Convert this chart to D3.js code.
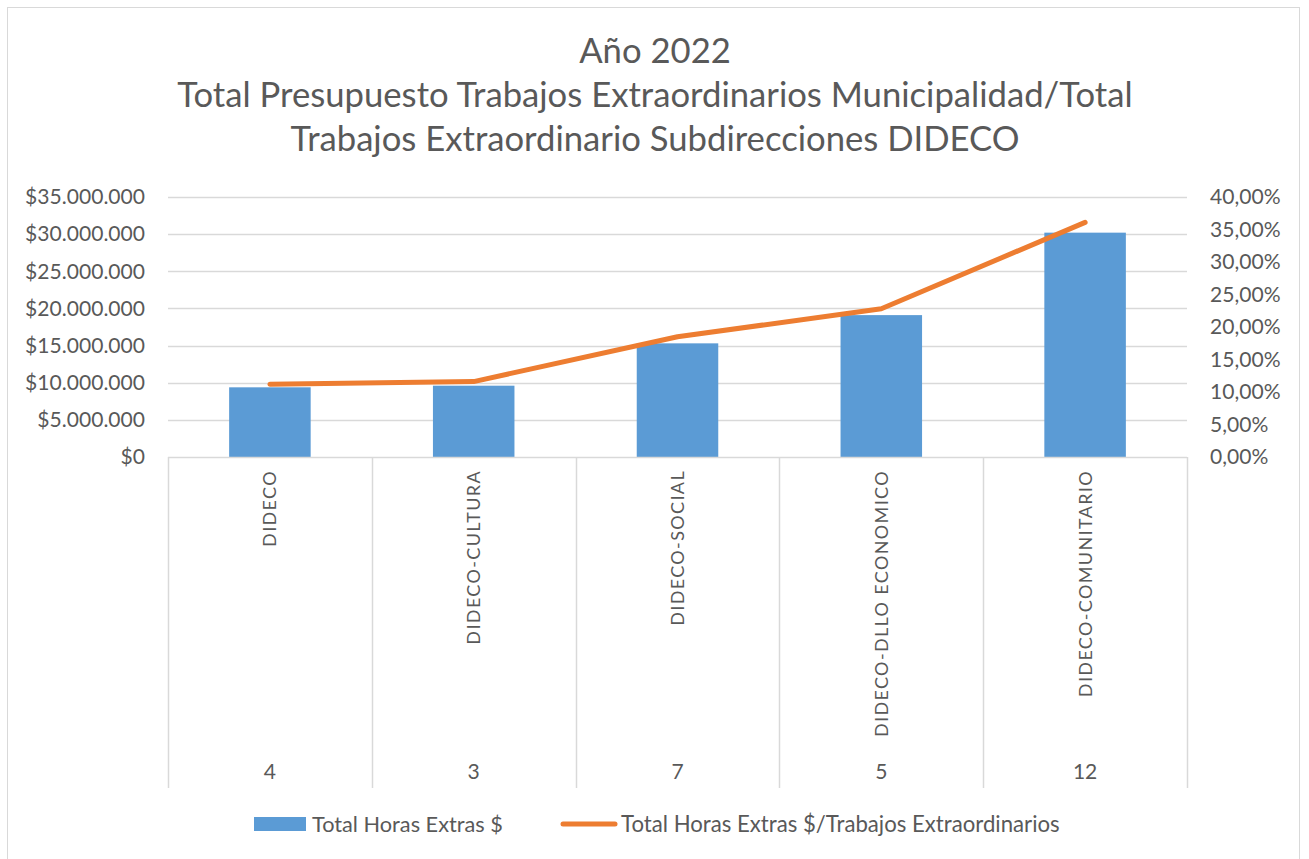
<!DOCTYPE html>
<html><head><meta charset="utf-8">
<script src="https://cdn.jsdelivr.net/npm/d3@7"></script>
<style>body{margin:0;background:#fff}svg text{font-family:Lato,"Noto Sans",sans-serif;fill:#595959}</style>
</head><body><svg id="c" width="1309" height="859"></svg>
<script>
const categories = ["DIDECO","DIDECO-CULTURA","DIDECO-SOCIAL","DIDECO-DLLO ECONOMICO","DIDECO-COMUNITARIO"];
const trabajos = ["4","3","7","5","12"];
const horasExtras = [9380000, 9600000, 15300000, 19100000, 30200000];
const ratio = [0.112, 0.116, 0.185, 0.228, 0.361];
const leftTicks = [0,5e6,10e6,15e6,20e6,25e6,30e6,35e6];
const rightTicks = [0,0.05,0.10,0.15,0.20,0.25,0.30,0.35,0.40];
const titleLines = ["Año 2022","Total Presupuesto Trabajos Extraordinarios Municipalidad/Total","Trabajos Extraordinario Subdirecciones DIDECO"];
const seriesNames = ["Total Horas Extras $","Total Horas Extras $/Trabajos Extraordinarios"];

const svg = d3.select("#c");
const grid = "#d9d9d9";
const L = 168, R = 1187, T = 197, B = 457;

function fit(sel, target){ sel.each(function(){ const w=this.getComputedTextLength(); const fs=parseFloat(d3.select(this).style("font-size")); d3.select(this).style("font-size",(fs*target/w)+"px");}); }

svg.append("rect").attr("x",7.5).attr("y",7.5).attr("width",1292).attr("height",860).attr("fill","none").attr("stroke",grid);

const x = d3.scaleBand().domain(categories).range([L,R]).padding(0);
const y = d3.scaleLinear().domain([0,35e6]).range([B,T]);
const y2 = d3.scaleLinear().domain([0,0.4]).range([B,T]);

// title
const tl = svg.append("g");
const ty=[63,107,151];
titleLines.forEach((t,i)=>{ tl.append("text").attr("x",655).attr("y",ty[i]).attr("text-anchor","middle").style("font-size","32px").text(t); });
fit(tl.selectAll("text").filter((d,i)=>i===1),956);
const fs2 = tl.selectAll("text").filter((d,i)=>i===1).style("font-size");
tl.selectAll("text").style("font-size",fs2);

// gridlines
svg.append("g").selectAll("line").data(leftTicks.slice(1)).join("line")
 .attr("x1",L).attr("x2",R).attr("y1",d=>Math.round(y(d))+0.5).attr("y2",d=>Math.round(y(d))+0.5).attr("stroke",grid).attr("stroke-width",1.5);

// left axis
const ya = d3.axisLeft(y).tickValues(leftTicks).tickSize(0).tickPadding(23)
  .tickFormat(d=>"$"+d3.format(",")(d).replace(/,/g,"."));
const yg = svg.append("g").attr("transform",`translate(${L},0)`).call(ya);
yg.select(".domain").remove();
yg.selectAll("text").style("font-size","18px");
fit(yg.selectAll("text").filter(d=>d===35e6),120);
const lfs = yg.selectAll("text").filter(d=>d===35e6).style("font-size");
yg.selectAll("text").style("font-size",lfs).attr("font-family",null);

// right axis
const y2a = d3.axisRight(y2).tickValues(rightTicks).tickSize(0).tickPadding(23)
  .tickFormat(d=>d3.format(".2f")(d*100).replace(".",",")+"%");
const y2g = svg.append("g").attr("transform",`translate(${R},0)`).call(y2a);
y2g.select(".domain").remove();
y2g.selectAll("text").style("font-size",lfs).attr("font-family",null);

// bars
const bw = x.bandwidth()*0.4;
svg.append("g").selectAll("rect").data(horasExtras).join("rect")
 .attr("x",(d,i)=>x(categories[i])+x.bandwidth()/2-bw/2).attr("width",bw)
 .attr("y",d=>y(d)).attr("height",d=>B-y(d)).attr("fill","#5b9bd5");

// category axis
svg.append("line").attr("x1",L).attr("x2",R).attr("y1",B+0.5).attr("y2",B+0.5).attr("stroke",grid).attr("stroke-width",1.5);
const edges = categories.map(c=>x(c)).concat([R]);
svg.append("g").selectAll("line").data(edges).join("line")
 .attr("x1",d=>Math.round(d)+0.5).attr("x2",d=>Math.round(d)+0.5).attr("y1",B).attr("y2",788).attr("stroke",grid).attr("stroke-width",1.5);

const cl = svg.append("g");
categories.forEach(c=>{
  cl.append("text").attr("transform",`translate(${x(c)+x.bandwidth()/2},470) rotate(-90)`)
   .attr("text-anchor","end").attr("dy","0.36em").style("font-size","18px").text(c);
});
// letter-spacing so the longest label matches the reference length
const longest = cl.selectAll("text").filter(function(){return d3.select(this).text()==="DIDECO-DLLO ECONOMICO";}).node();
const ls = (267 - longest.getComputedTextLength())/ "DIDECO-DLLO ECONOMICO".length;
cl.selectAll("text").style("letter-spacing",ls+"px");

// second level
svg.append("g").selectAll("text").data(trabajos).join("text")
 .attr("x",(d,i)=>x(categories[i])+x.bandwidth()/2).attr("y",772).attr("dy","0.35em")
 .attr("text-anchor","middle").style("font-size",lfs).text(d=>d);

// line
const line = d3.line().x((d,i)=>x(categories[i])+x.bandwidth()/2).y(d=>y2(d));
svg.append("path").datum(ratio).attr("d",line).attr("fill","none").attr("stroke","#ed7d31").attr("stroke-width",5).attr("stroke-linecap","round").attr("stroke-linejoin","round");

// legend
svg.append("rect").attr("x",254).attr("y",817).attr("width",52).attr("height",14).attr("fill","#5b9bd5");
const lt1 = svg.append("text").attr("x",312).attr("y",824).attr("dy","0.35em").style("font-size","18px").text(seriesNames[0]);
fit(lt1,191);
svg.append("line").attr("x1",563).attr("x2",615).attr("y1",824).attr("y2",824).attr("stroke","#ed7d31").attr("stroke-width",5).attr("stroke-linecap","round");
const lt2 = svg.append("text").attr("x",621).attr("y",824).attr("dy","0.35em").style("font-size","18px").text(seriesNames[1]);
fit(lt2,439);
</script></body></html>
